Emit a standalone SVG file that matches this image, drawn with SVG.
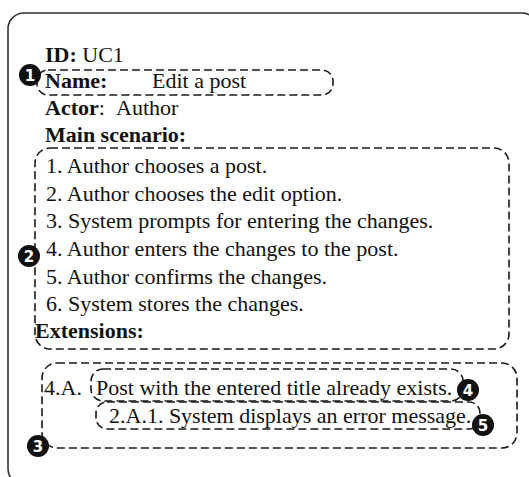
<svg xmlns="http://www.w3.org/2000/svg" width="529" height="477" viewBox="0 0 529 477">
  <style>
    .t { font-family: "Liberation Serif", "Times New Roman", serif; font-size: 22px; fill: #111; }
    .b { font-weight: bold; }
    .frame { fill: #fff; stroke: #333; stroke-width: 1.6; }
    .dash { fill: none; stroke: #1a1a1a; stroke-width: 1.6; stroke-dasharray: 8 4; }
    .badge { fill: #111; }
    .num { font-family: "DejaVu Sans", sans-serif; font-size: 15px; font-weight: bold; fill: #fff; text-anchor: middle; }
  </style>
  <rect x="0" y="0" width="529" height="477" fill="#fff"/>
  <g id="frame">
    <rect class="frame" x="8" y="13" width="530" height="472" rx="16"/>
  </g>
  <g id="header">
    <text class="t" x="45" y="62"><tspan class="b">ID:</tspan> UC1</text>
    <text class="t" x="45" y="115"><tspan class="b">Actor</tspan>:<tspan x="116">Author</tspan></text>
    <text class="t b" x="45" y="142">Main scenario:</text>
  </g>
  <g id="name">
    <rect class="dash" x="37" y="70" width="296" height="25" rx="11"/>
    <text class="t b" x="45" y="88">Name:</text>
    <text class="t" x="152" y="88">Edit a post</text>
    <circle class="badge" cx="30" cy="75" r="11"/>
    <text class="num" x="30" y="80.5">1</text>
  </g>
  <g id="main-scenario">
    <rect class="dash" x="35" y="148" width="474" height="201" rx="15"/>
    <text class="t" x="46" y="173">1. Author chooses a post.</text>
    <text class="t" x="46" y="201">2. Author chooses the edit option.</text>
    <text class="t" x="46" y="228">3. System prompts for entering the changes.</text>
    <text class="t" x="46" y="256">4. Author enters the changes to the post.</text>
    <text class="t" x="46" y="284">5. Author confirms the changes.</text>
    <text class="t" x="46" y="311">6. System stores the changes.</text>
    <text class="t b" x="35" y="338">Extensions:</text>
    <circle class="badge" cx="29" cy="256" r="11"/>
    <text class="num" x="29" y="261.5">2</text>
  </g>
  <g id="extensions">
    <rect class="dash" x="42" y="363" width="475" height="85" rx="15"/>
    <text class="t" x="44" y="395">4.A.</text>
    <circle class="badge" cx="38" cy="446" r="11"/>
    <text class="num" x="38" y="451.5">3</text>
  </g>
  <g id="extension-condition">
    <rect class="dash" x="91" y="369" width="372" height="32" rx="12"/>
    <text class="t" x="96" y="395">Post with the entered title already exists.</text>
    <circle class="badge" cx="468" cy="390" r="11"/>
    <text class="num" x="468" y="395.5">4</text>
  </g>
  <g id="extension-step">
    <rect class="dash" x="96" y="402" width="384" height="27" rx="11"/>
    <text class="t" x="109" y="423">2.A.1. System displays an error message.</text>
    <circle class="badge" cx="483" cy="425" r="11"/>
    <text class="num" x="483" y="430.5">5</text>
  </g>
  <g id="connectors"></g>
</svg>
